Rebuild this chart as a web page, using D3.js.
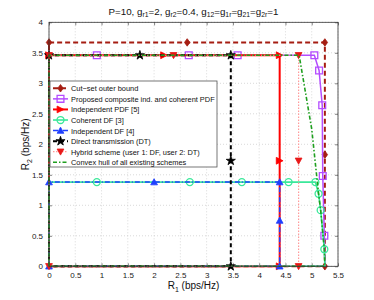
<!DOCTYPE html>
<html><head><meta charset="utf-8">
<script src="https://cdn.jsdelivr.net/npm/d3@7"></script>
<style>body{margin:0;background:#fff}text{font-family:"Liberation Sans",Arial,Helvetica,sans-serif}</style>
</head><body><svg id="c" width="374" height="300"></svg>
<script>
const xTickValues=[0,0.5,1,1.5,2,2.5,3,3.5,4,4.5,5,5.5];
const xTickLabels=["0","0.5","1","1.5","2","2.5","3","3.5","4","4.5","5","5.5"];
const yTickValues=[0,0.5,1,1.5,2,2.5,3,3.5,4];
const yTickLabels=["0","0.5","1","1.5","2","2.5","3","3.5","4"];

const seriesNames=["Cut\u2212set outer bound","Proposed composite ind. and coherent PDF","Independent PDF [5]","Coherent DF [3]","Independent DF [4]","Direct transmission (DT)","Hybrid scheme (user 1: DF, user 2: DT)","Convex hull of all existing schemes"];

const cutsetLine=[[0,0],[0,3.67],[5.25,3.67],[5.25,0],[0,0]];
const cutsetMarks=[[0,3.67],[2.63,3.67],[5.25,3.67],[5.25,1.83],[5.25,0]];
const compositeLine=[[0,0],[0,3.46],[5.05,3.46],[5.14,3.21],[5.2,2.64],[5.21,1.48],[5.24,0.5],[5.25,0],[0,0]];
const compositeMarks=[[0.91,3.46],[2.66,3.46],[3.59,3.46],[5.05,3.46],[5.14,3.21],[5.2,2.64],[5.21,1.48],[5.24,0.5]];
const indPdfLine=[[0,0],[0,3.46],[4.39,3.46],[4.39,0],[0,0]];
const indPdfMarks=[[0,3.46],[2.19,3.46],[4.39,3.46],[4.39,1.73],[4.39,0]];
const cohDfLine=[[0,0],[0,1.38],[5.07,1.38],[5.13,1.19],[5.17,0.92],[5.24,0.28],[5.25,0],[0,0]];
const cohDfMarks=[[0.91,1.38],[2.68,1.38],[3.67,1.38],[4.56,1.38],[5.07,1.38],[5.13,1.19],[5.17,0.92],[5.24,0.28]];
const indDfLine=[[0,0],[0,1.38],[4.39,1.38],[4.39,0],[0,0]];
const indDfMarks=[[0,1.38],[2.0,1.38],[4.39,1.38],[4.39,0.75],[4.39,0],[0,0]];
const dtLine=[[0,0],[0,3.46],[3.46,3.46],[3.46,0],[0,0]];
const dtMarks=[[0,3.46],[1.73,3.46],[3.46,3.46],[3.46,1.73],[3.46,0]];
const hybridLine=[[0,0],[0,3.46],[4.75,3.46],[4.75,0],[0,0]];
const hybridMarks=[[0,0],[0,3.46],[2.37,3.46],[4.75,3.46],[4.75,1.73],[4.75,0]];
const hullLine=[[0,0],[0,3.46],[4.76,3.46],[5.0,2.25],[5.13,1.19],[5.17,0.92],[5.24,0.28],[5.25,0],[0,0]];
const hullMarks=[];

const styles=[
 {line:cutsetLine,marks:cutsetMarks,color:"#a51d12",mcolor:"#a51d12",w:2,dash:"5,3",sym:"diamond",fill:true},
 {line:compositeLine,marks:compositeMarks,color:"#b44cff",mcolor:"#b44cff",w:1.5,dash:null,sym:"square",fill:false},
 {line:indPdfLine,marks:indPdfMarks,color:"#ff0000",mcolor:"#ff0000",w:2,dash:null,sym:"triright",fill:true},
 {line:cohDfLine,marks:cohDfMarks,color:"#3ae89a",mcolor:"#3ae89a",w:1.6,dash:null,sym:"circle",fill:false},
 {line:indDfLine,marks:indDfMarks,color:"#1f3fff",mcolor:"#1f3fff",w:1.5,dash:"5,2,1,2",sym:"triup",fill:true},
 {line:dtLine,marks:dtMarks,color:"#000000",mcolor:"#000000",w:2,dash:"4,3",sym:"star",fill:true},
 {line:hybridLine,marks:hybridMarks,color:"#ff9a9a",mcolor:"#e81818",w:1.2,dash:"1.5,1.5",sym:"tridown",fill:true},
 {line:hullLine,marks:hullMarks,color:"#1f9f1f",mcolor:"#1f9f1f",w:1.6,dash:"4,2,1.5,2",sym:null,fill:true}
];

const svg=d3.select("#c");
const L=49,R=338,T=22.3,B=266.3;
const x=d3.scaleLinear().domain([0,5.5]).range([L,R]);
const y=d3.scaleLinear().domain([0,4]).range([B,T]);

const g=svg.append("g");
g.selectAll(".gx").data(xTickValues).enter().append("line")
 .attr("x1",d=>x(d)).attr("x2",d=>x(d)).attr("y1",T).attr("y2",B)
 .attr("stroke","#c8c8c8").attr("stroke-width",0.7).attr("stroke-dasharray","1,2");
g.selectAll(".gy").data(yTickValues).enter().append("line")
 .attr("y1",d=>y(d)).attr("y2",d=>y(d)).attr("x1",L).attr("x2",R)
 .attr("stroke","#c8c8c8").attr("stroke-width",0.7).attr("stroke-dasharray","1,2");

const xAxisB=d3.axisBottom(x).tickValues(xTickValues).tickFormat((d,i)=>xTickLabels[i]).tickSizeInner(-3).tickSizeOuter(0).tickPadding(6);
const xAxisT=d3.axisTop(x).tickValues(xTickValues).tickFormat("").tickSizeInner(-3).tickSizeOuter(0);
const yAxisL=d3.axisLeft(y).tickValues(yTickValues).tickFormat((d,i)=>yTickLabels[i]).tickSizeInner(-3).tickSizeOuter(0).tickPadding(6);
const yAxisR=d3.axisRight(y).tickValues(yTickValues).tickFormat("").tickSizeInner(-3).tickSizeOuter(0);
function styleAxis(sel){sel.select(".domain").remove();sel.selectAll("line").attr("stroke","#333").attr("stroke-width",0.6);sel.selectAll("text").attr("font-size",8).attr("fill","#222").attr("font-family","Liberation Sans, Arial, sans-serif");}
svg.append("g").attr("transform",`translate(0,${B})`).call(xAxisB).call(styleAxis);
svg.append("g").attr("transform",`translate(0,${T})`).call(xAxisT).call(styleAxis);
svg.append("g").attr("transform",`translate(${L},0)`).call(yAxisL).call(styleAxis);
svg.append("g").attr("transform",`translate(${R},0)`).call(yAxisR).call(styleAxis);

const line=d3.line().x(d=>x(d[0])).y(d=>y(d[1]));
function symPath(sym){
 const s=3.4;
 switch(sym){
  case "diamond": return `M0,${-s*1.1}L${s*0.8},0L0,${s*1.1}L${-s*0.8},0Z`;
  case "square": return `M${-s},${-s}H${s}V${s}H${-s}Z`;
  case "triright": return `M${s},0L${-s},${-s}L${-s},${s}Z`;
  case "triup": return `M0,${-s}L${s},${s*0.8}L${-s},${s*0.8}Z`;
  case "tridown": return `M0,${s}L${s},${-s*0.8}L${-s},${-s*0.8}Z`;
  case "circle": return d3.symbol(d3.symbolCircle,38)();
  case "star": return d3.symbol(d3.symbolStar,26)();
 }
 return "";
}
function drawMarker(sel,st,cx,cy){
 if(!st.sym) return;
 sel.append("path").attr("d",symPath(st.sym)).attr("transform",`translate(${cx},${cy})`)
  .attr("fill",st.fill?st.mcolor:"none").attr("stroke",st.mcolor).attr("stroke-width",st.fill?0.8:1.3);
}
const plot=svg.append("g");
styles.forEach(st=>{
 plot.append("path").attr("d",line(st.line)).attr("fill","none").attr("stroke",st.color)
  .attr("stroke-width",st.w).attr("stroke-dasharray",st.dash);
 st.marks.forEach(m=>drawMarker(plot,st,x(m[0]),y(m[1])));
});

svg.append("rect").attr("x",L).attr("y",T).attr("width",R-L).attr("height",B-T).attr("fill","none").attr("stroke","#333").attr("stroke-width",0.8);

// legend
const lg=svg.append("g");
const lx=50,ly=81,lw=167,lh=86;
lg.append("rect").attr("x",lx).attr("y",ly).attr("width",lw).attr("height",lh).attr("fill","#fff").attr("stroke","#555").attr("stroke-width",0.8);
const texts=[];
seriesNames.forEach((n,i)=>{
 const st=styles[i];const yy=88.3+i*10.57;
 lg.append("line").attr("x1",53).attr("x2",68).attr("y1",yy).attr("y2",yy).attr("stroke",st.color).attr("stroke-width",st.w).attr("stroke-dasharray",st.dash);
 drawMarker(lg,st,60.5,yy);
 texts.push(lg.append("text").attr("x",71).attr("y",yy+3).attr("font-size",8).attr("fill","#111").text(n));
});
// fit legend font to reference width of longest entry (~144px)
const longest=texts[1].node().getComputedTextLength();
const lfs=8*144/longest;
texts.forEach(t=>t.attr("font-size",lfs));

// title
const tt=svg.append("text").attr("x",193.5).attr("y",15).attr("text-anchor","middle").attr("font-size",10).attr("fill","#111");
const parts=[["P=10, g",""],["r1","s"],["=2, g",""],["r2","s"],["=0.4, g",""],["12","s"],["=g",""],["1r","s"],["=g",""],["21","s"],["=g",""],["2r","s"],["=1",""]];
parts.forEach((p,i)=>{const t=tt.append("tspan").text(p[0]);if(p[1]){t.attr("font-size",7).attr("dy",2.5);}else{t.attr("dy",i===0?0:-2.5);}});
const tw=tt.node().getComputedTextLength();
const sc=170/tw;
tt.attr("font-size",10*sc);
tt.selectAll("tspan").each(function(d,i){const p=parts[i];if(p[1]) d3.select(this).attr("font-size",7*sc).attr("dy",2.5*sc); else d3.select(this).attr("dy",i===0?0:-2.5*sc);});

const xl=svg.append("text").attr("x",193.5).attr("y",289).attr("text-anchor","middle").attr("font-size",10).attr("fill","#111");
xl.append("tspan").text("R");xl.append("tspan").text("1").attr("font-size",7).attr("dy",2.5);xl.append("tspan").text(" (bps/Hz)").attr("dy",-2.5);
const yl=svg.append("text").attr("transform","translate(29,144.3) rotate(-90)").attr("text-anchor","middle").attr("font-size",10).attr("fill","#111");
yl.append("tspan").text("R");yl.append("tspan").text("2").attr("font-size",7).attr("dy",2.5);yl.append("tspan").text(" (bps/Hz)").attr("dy",-2.5);
</script></body></html>
